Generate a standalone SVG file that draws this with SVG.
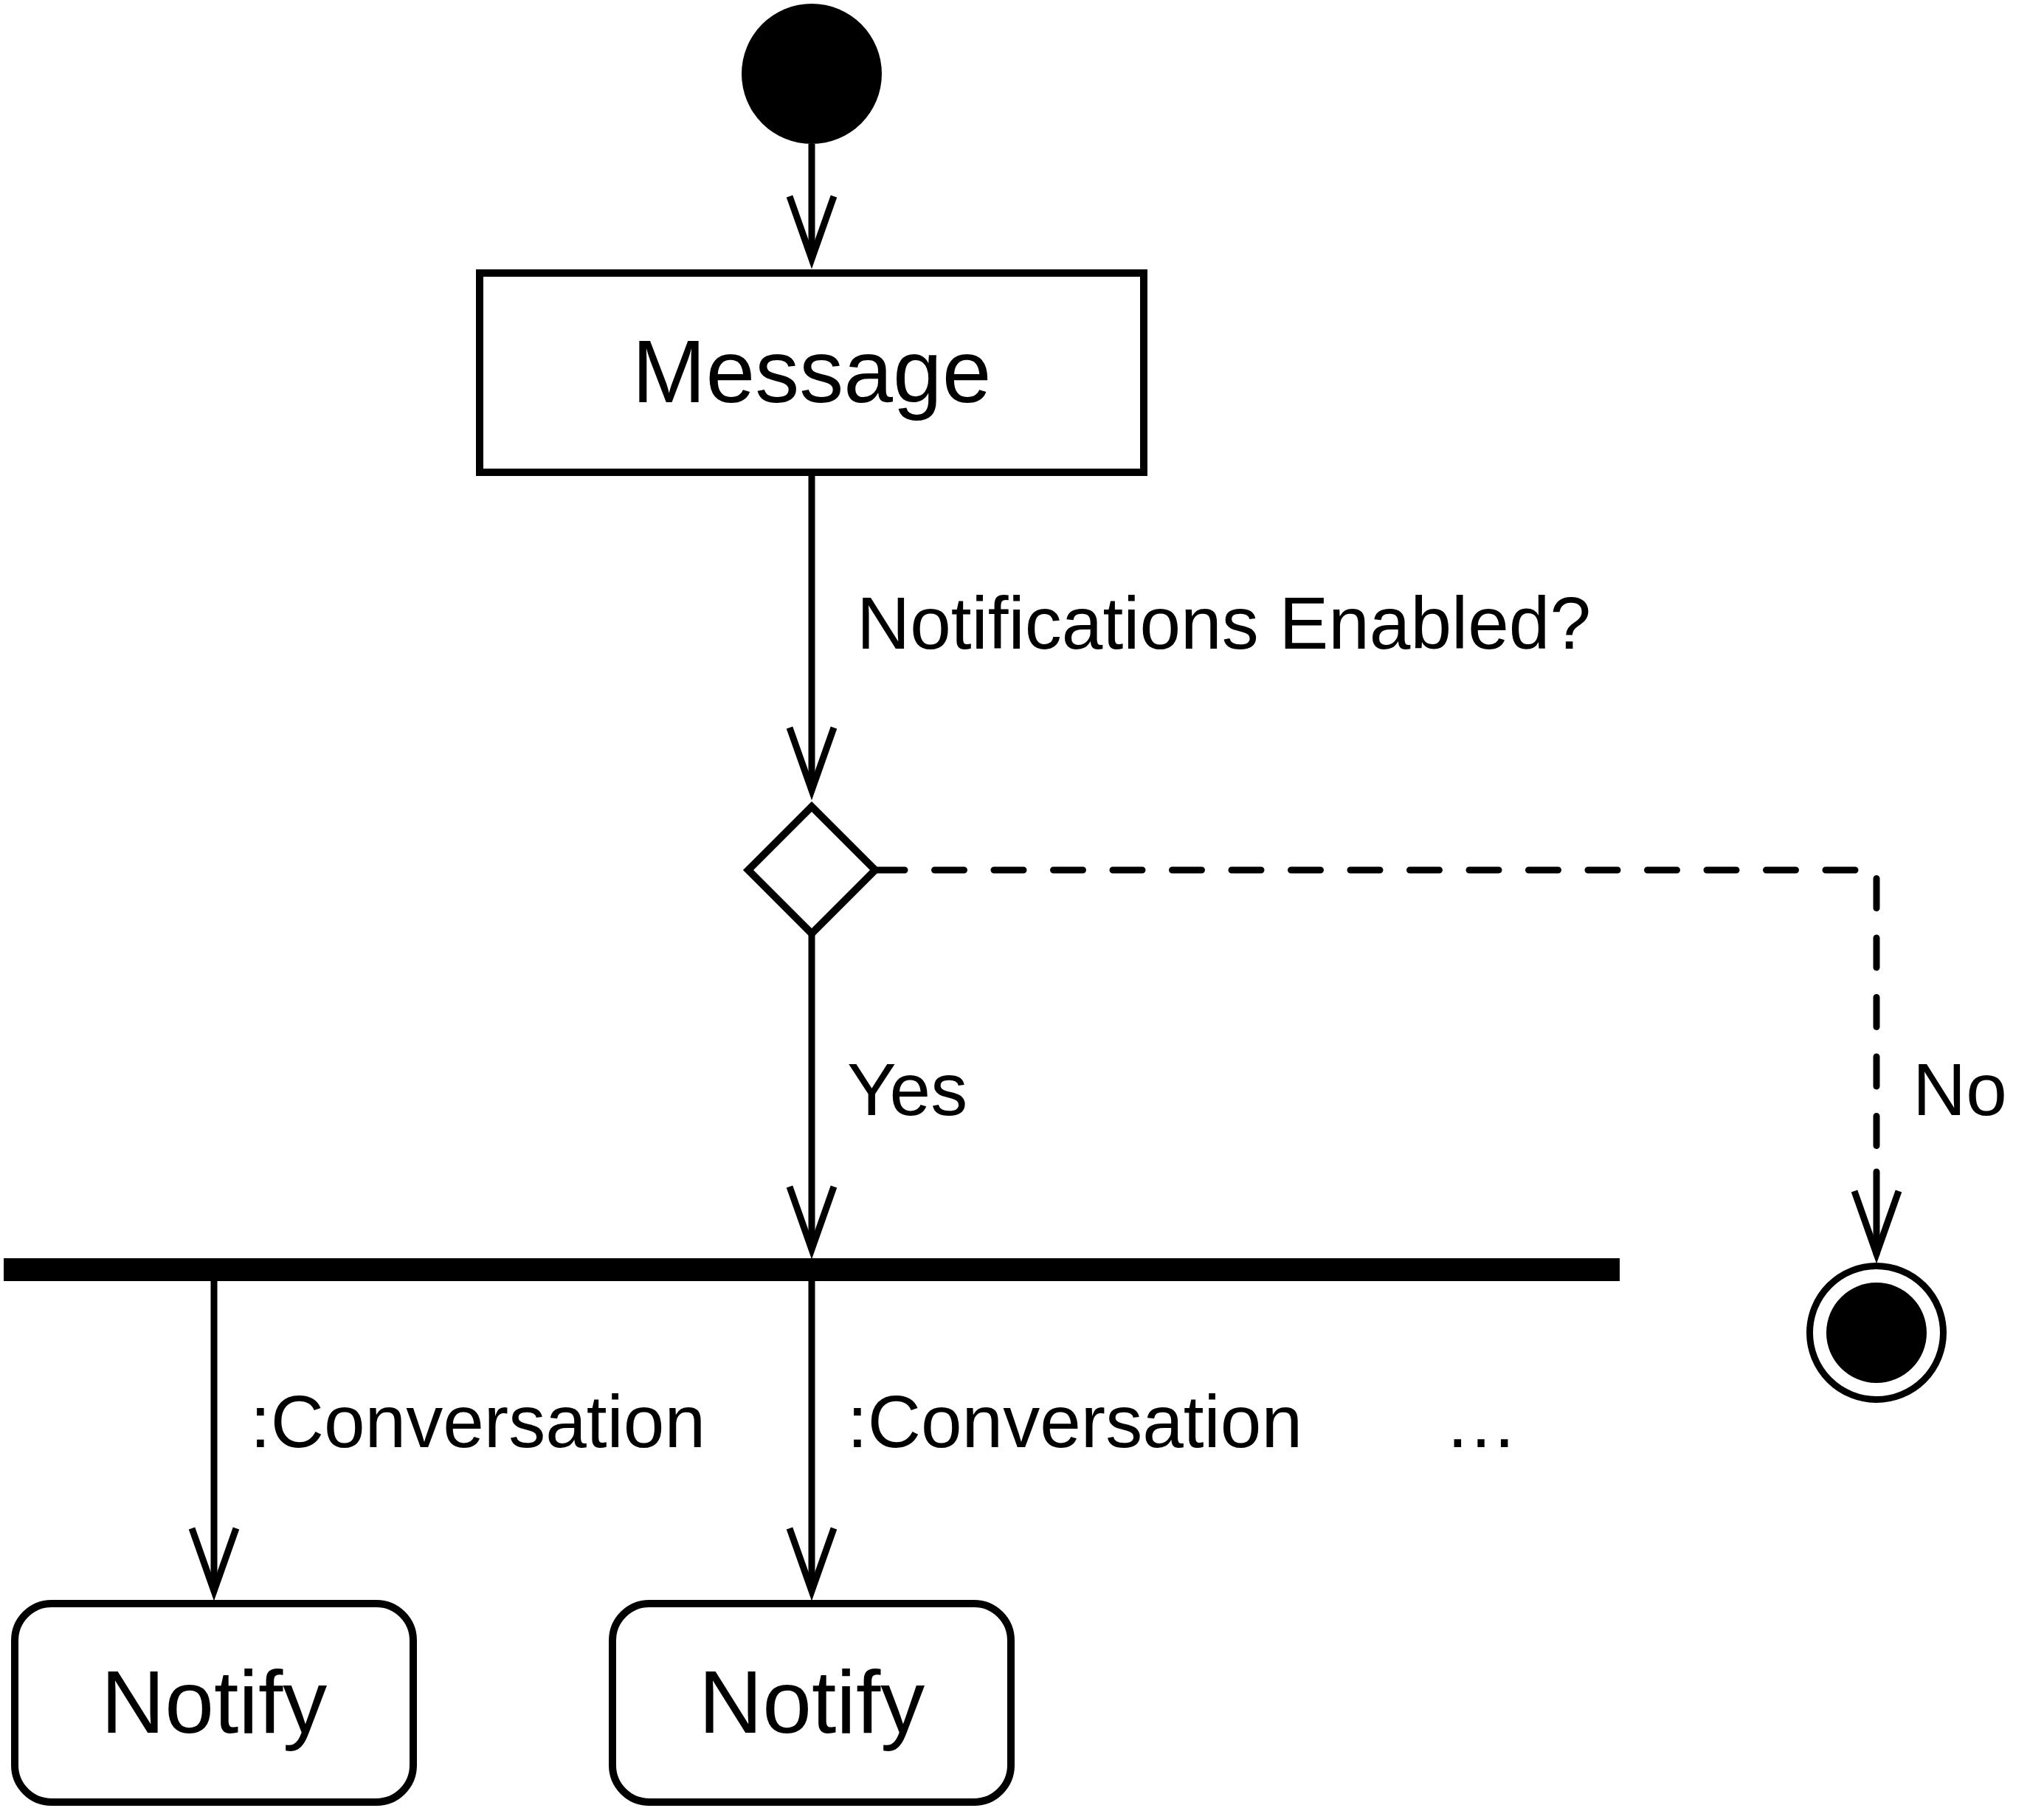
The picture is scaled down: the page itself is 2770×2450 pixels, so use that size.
<svg xmlns="http://www.w3.org/2000/svg" width="2770" height="2450" viewBox="0 0 2770 2450">
<style>
.txt{font-family:"Liberation Sans",Arial,Helvetica,sans-serif;fill:#000}
.big{font-size:120px}
.lbl{font-size:100px}
.edge{fill:none;stroke:#000;stroke-width:9}
.dash{stroke-dasharray:40 40.5;stroke-linecap:round}
.box{fill:#fff;stroke:#000;stroke-width:10}
</style>
<defs>
<marker id="arrow" markerUnits="userSpaceOnUse" viewBox="-100 -40 110 80" markerWidth="110" markerHeight="80" refX="0" refY="0" orient="auto" overflow="visible">
<path d="M-85,-30 L0,0 L-85,30" fill="none" stroke="#000" stroke-width="9" stroke-linejoin="miter"/>
</marker>
</defs>
<rect width="2770" height="2450" fill="#fff"/>
<g id="connectors">
<path class="edge" d="M1100,195 V351" marker-end="url(#arrow)"/>
<path class="edge" d="M1100,645 V1071" marker-end="url(#arrow)"/>
<path class="edge" d="M1100,1265 V1693" marker-end="url(#arrow)"/>
<path class="edge dash" d="M1186,1179 H2543 V1560"/>
<path class="edge" d="M2543,1588 V1699" stroke-linecap="round" marker-end="url(#arrow)"/>
<path class="edge" d="M290,1736 V2156" marker-end="url(#arrow)"/>
<path class="edge" d="M1100,1736 V2156" marker-end="url(#arrow)"/>
<text class="txt lbl" x="1161" y="879">Notifications Enabled?</text>
<text class="txt lbl" x="1148" y="1511">Yes</text>
<text class="txt lbl" x="2592" y="1511">No</text>
<text class="txt lbl" x="339" y="1961">:Conversation</text>
<text class="txt lbl" x="1148" y="1961">:Conversation</text>
<text class="txt lbl" x="1957" y="1961">…</text>
</g>
<g id="start">
<circle cx="1100" cy="100" r="95" fill="#000"/>
</g>
<g id="message">
<rect class="box" x="650" y="370" width="900" height="270"/>
<text class="txt big" x="1100" y="545" text-anchor="middle">Message</text>
</g>
<g id="decision">
<polygon points="1100,1093 1186,1179 1100,1265 1014,1179" fill="#fff" stroke="#000" stroke-width="10" stroke-linejoin="miter"/>
</g>
<g id="fork">
<rect x="5" y="1705" width="2190" height="31" fill="#000"/>
</g>
<g id="end">
<circle cx="2543" cy="1806" r="90.5" fill="#fff" stroke="#000" stroke-width="9"/>
<circle cx="2543" cy="1806" r="68" fill="#000"/>
</g>
<g id="notify1">
<rect class="box" x="20" y="2173" width="540" height="269" rx="50" ry="50"/>
<text class="txt big" x="290" y="2348" text-anchor="middle">Notify</text>
</g>
<g id="notify2">
<rect class="box" x="830" y="2173" width="540" height="269" rx="50" ry="50"/>
<text class="txt big" x="1100" y="2348" text-anchor="middle">Notify</text>
</g>
</svg>
